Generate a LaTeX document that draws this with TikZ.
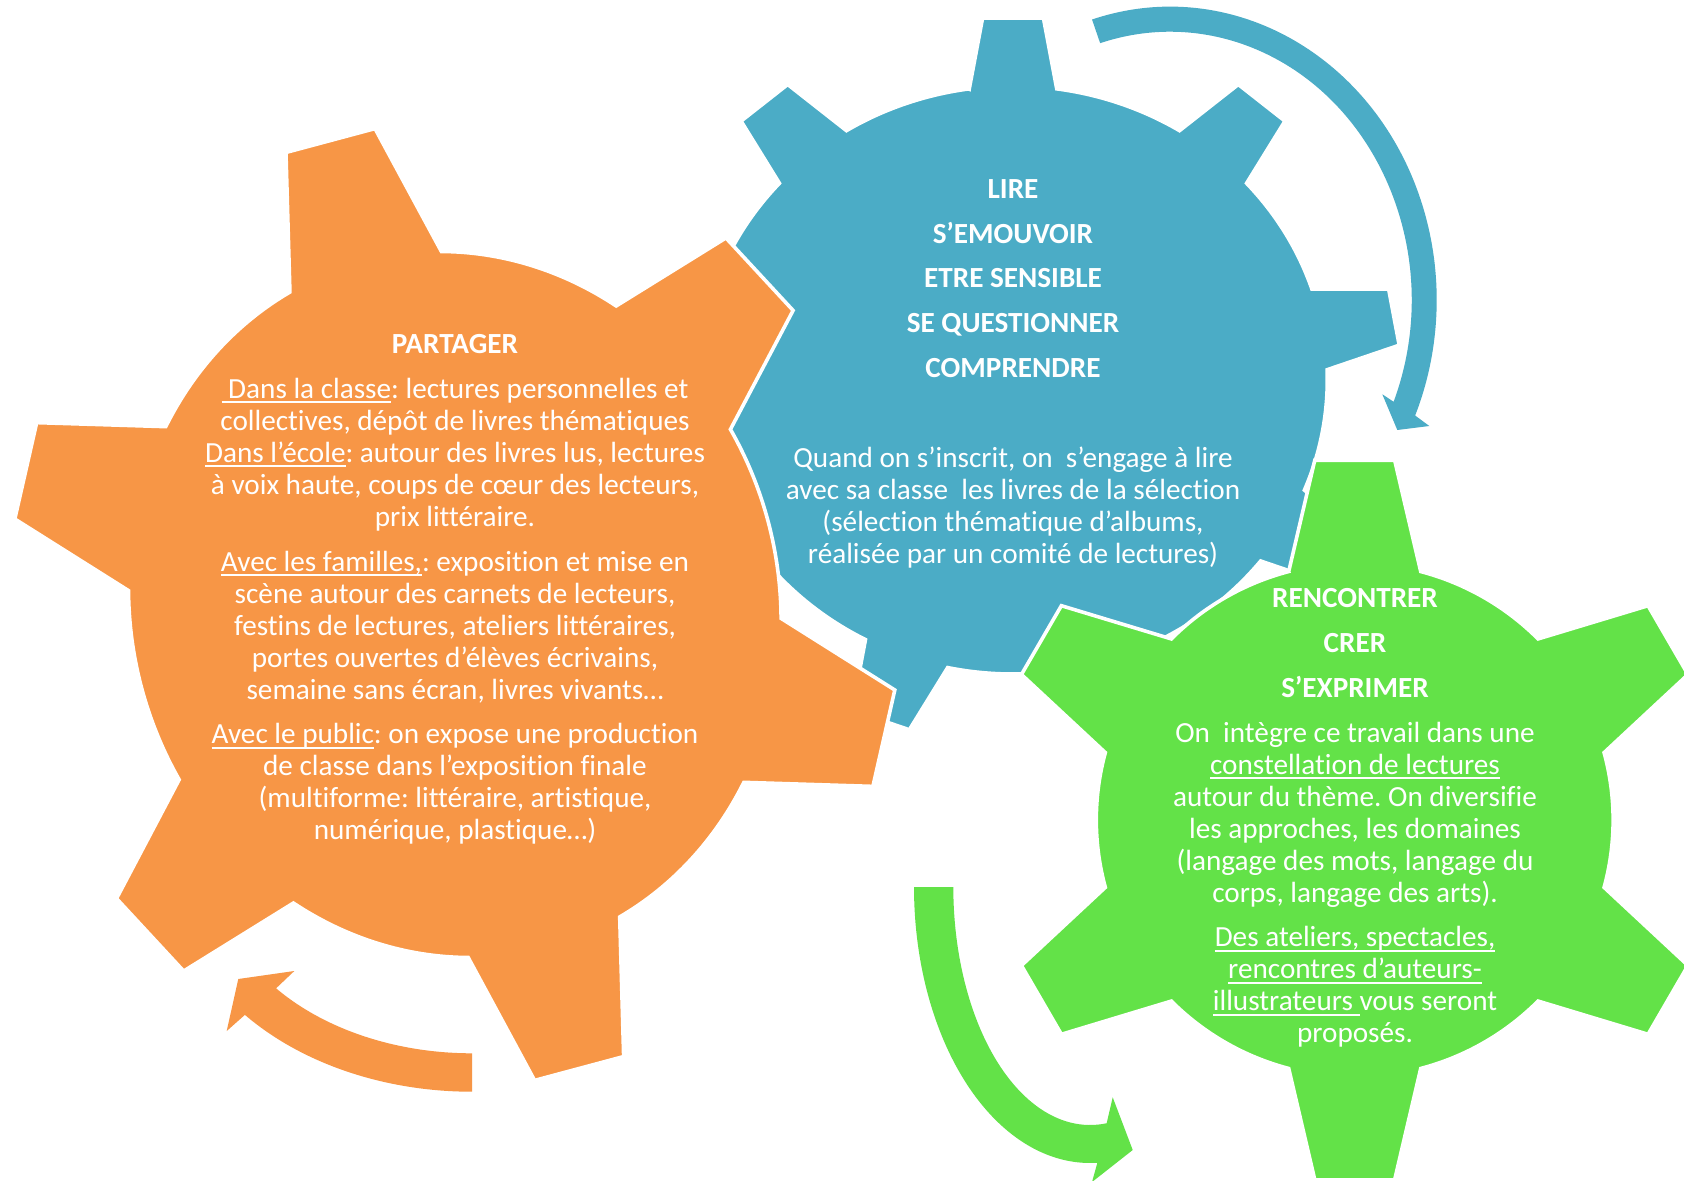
\documentclass[tikz,border=0pt]{standalone}
\usepackage{fontspec}
\setmainfont{Carlito}[Ligatures={NoCommon}]
\usetikzlibrary{calc}
\definecolor{gblue}{RGB}{75,172,198}
\definecolor{gorange}{RGB}{247,150,70}
\definecolor{ggreen}{RGB}{99,226,72}
\frenchspacing
\newcommand\myul[1]{\setbox0\hbox{#1}\rlap{\rule[-2.3pt]{\wd0}{0.8pt}}\box0}
% #1 teeth, #2 body radius, #3 tip half-angle, #4 base half-angle, #5 style
\newcommand\gearshape[5]{%
  \fill[#5] (90+#4:#2)
    \foreach \k [evaluate=\k as \a using {90-(\k-1)*360/#1},
                 evaluate=\k as \sa using {90-(\k-1)*360/#1-#4},
                 evaluate=\k as \ea using {90-\k*360/#1+#4}] in {1,...,#1}
    { -- (\a+#3:1) -- (\a-#3:1) -- (\sa:#2)
      arc[start angle=\sa, end angle=\ea, radius=#2] } -- cycle;}
\tikzset{
  gearfill/.style={fill=#1, draw=white, line width=1.8pt},
  arrowfill/.style={fill=#1},
  txt/.style={text=white, inner sep=0pt, anchor=base,
    font=\fontsize{14.6}{16}\selectfont}
}
\begin{document}
\begin{tikzpicture}[x=0.5pt,y=0.5pt]
\useasboundingbox (0,0) rectangle (1684,-1181);
\fill[white] (0,0) rectangle (1684,-1181);

% blue gear
\begin{scope}[shift={(1013,-380)}, xscale=388, yscale=363]
  \gearshape{9}{0.81}{4.5}{8}{gearfill=gblue}
\end{scope}
% orange gear
\begin{scope}[shift={(454.8,-604.5)}, rotate=15, xscale=441, yscale=483]
  \gearshape{6}{0.735}{6}{14}{gearfill=gorange}
\end{scope}
% green gear
\begin{scope}[shift={(1354.7,-820)}, xscale=364, yscale=362]
  \gearshape{6}{0.71}{6.3}{14.8}{gearfill=ggreen}
\end{scope}

% curved arrows
\coordinate (ba) at (1170,-300);
\fill[arrowfill=gblue] ($(ba)+(107:266.7 and 293.3)$)
  arc[start angle=107, end angle=-23.2, x radius=266.7, y radius=293.3]
  -- (1429.3,-426) -- (1397.3,-430) -- (1382.3,-394.3)
  -- ($(ba)+(-22.3:241.7 and 268.3)$)
  arc[start angle=-22.3, end angle=106.8, x radius=241.7, y radius=268.3] -- cycle;

\coordinate (ga) at (1090,-887);
\fill[arrowfill=ggreen] ($(ga)+(180:176 and 276)$)
  arc[start angle=180, end angle=272.4, x radius=176, y radius=276]
  -- (1092,-1182) -- (1132.7,-1150) -- (1112.7,-1097.3)
  -- ($(ga)+(277:136.7 and 238)$)
  arc[start angle=277, end angle=180, x radius=136.7, y radius=238] -- cycle;

\coordinate (oa) at (472,-870);
\fill[arrowfill=gorange] ($(oa)+(270:300 and 221.7)$)
  arc[start angle=270, end angle=220.8, x radius=300, y radius=221.7]
  -- (226.7,-1031) -- (238.3,-979) -- (294.3,-971)
  -- ($(oa)+(220.2:256.5 and 183.3)$)
  arc[start angle=220.2, end angle=270, x radius=256.5, y radius=183.3] -- cycle;

% texts
\node[txt] (lire) at (1013,-198.3) {\begin{tabular}[t]{@{}c@{}}
\textbf{LIRE}\\[6.4pt]
\textbf{S’EMOUVOIR}\\[6.4pt]
\textbf{ETRE SENSIBLE}\\[6.4pt]
\textbf{SE QUESTIONNER}\\[6.4pt]
\textbf{COMPRENDRE}\\[28.8pt]
Quand on s’inscrit, on\ \ s’engage à lire\\
avec sa classe\ \ les livres de la sélection\\
(sélection thématique d’albums,\\
réalisée par un comité de lectures)
\end{tabular}};

\node[txt] (partager) at (455,-353.5) {\begin{tabular}[t]{@{}c@{}}
\textbf{PARTAGER}\\[6.4pt]
\myul{\ Dans la classe}: lectures personnelles et\\
collectives, dépôt de livres thématiques\\
\myul{Dans l’école}: autour des livres lus, lectures\\
à voix haute, coups de cœur des lecteurs,\\
prix littéraire.\\[6.4pt]
\myul{Avec les familles,}: exposition et mise en\\
scène autour des carnets de lecteurs,\\
festins de lectures, ateliers littéraires,\\
portes ouvertes d’élèves écrivains,\\
semaine sans écran, livres vivants…\\[6.4pt]
\myul{Avec le public}: on expose une production\\
de classe dans l’exposition finale\\
(multiforme: littéraire, artistique,\\
numérique, plastique…)
\end{tabular}};

\node[txt] (rencontrer) at (1355,-607.7) {\begin{tabular}[t]{@{}c@{}}
\textbf{RENCONTRER}\\[6.4pt]
\textbf{CRER}\\[6.4pt]
\textbf{S’EXPRIMER}\\[6.4pt]
On\ \ intègre ce travail dans une\\
\myul{constellation de lectures}\\
autour du thème. On diversifie\\
les approches, les domaines\\
(langage des mots, langage du\\
corps, langage des arts).\\[6.4pt]
\myul{Des ateliers, spectacles,}\\
\myul{rencontres d’auteurs-}\\
\myul{illustrateurs\ }vous seront\\
proposés.
\end{tabular}};
\end{tikzpicture}
\end{document}
